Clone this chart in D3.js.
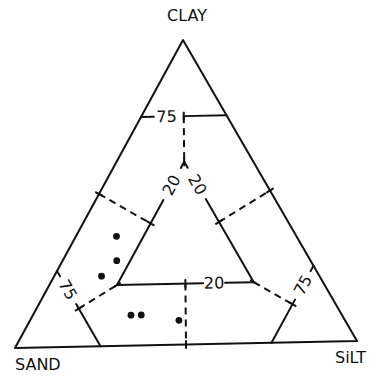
<!DOCTYPE html>
<html>
<head>
<meta charset="utf-8">
<script src="https://cdn.jsdelivr.net/npm/d3@7"></script>
<style>
  html, body { margin: 0; background: #fff; }
  svg { display: block; }
  text { font-family: "DejaVu Sans", sans-serif; fill: #111; }
</style>
</head>
<body>
<svg id="chart" width="369" height="377"></svg>
<script>
// Corner names of the texture triangle
const vertexNames = ["SAND", "SiLT", "CLAY"];

// Sample compositions, percent by weight
const sand = [52, 56, 63, 61, 58, 48];
const silt = [12, 16, 14, 29, 32, 44];
const clay = [36, 28, 23, 10, 10, 8];

// Class boundaries (percent)
const innerLimit = 20;
const outerLimit = 75;
const boundaryLabels = ["20", "75"];

// ---- layout ----
const svg = d3.select("#chart");
const corner = {
  sand: [15, 348],
  silt: [357, 341],
  clay: [183, 40]
};
const pct = d3.scaleLinear().domain([0, 100]).range([0, 1]);

// barycentric projection: [sand, silt, clay] (percent) -> [x, y]
function proj(p) {
  const a = pct(p[0]), b = pct(p[1]), c = pct(p[2]);
  return [
    a * corner.sand[0] + b * corner.silt[0] + c * corner.clay[0],
    a * corner.sand[1] + b * corner.silt[1] + c * corner.clay[1]
  ];
}
const lerp = (p, q, t) => [p[0] + (q[0] - p[0]) * t, p[1] + (q[1] - p[1]) * t];
const line = d3.line();

const ink = "#111";
const g = svg.append("g")
  .attr("fill", "none")
  .attr("stroke", ink)
  .attr("stroke-width", 2)
  .attr("stroke-linecap", "round")
  .attr("stroke-linejoin", "round");

// outer triangle
g.append("path")
  .attr("d", line([proj([100, 0, 0]), proj([0, 100, 0]), proj([0, 0, 100])]) + "Z");

const lo = innerLimit, hi = outerLimit, rest = 100 - hi;
const mid = 100 - lo * 2;

// solid boundaries, each carrying a label that interrupts it
const boundaries = [
  { from: [rest, 0, hi], to: [0, rest, hi], text: boundaryLabels[1], at: 0.30, gap: [0.15, 0.50] },
  { from: [lo, lo, mid], to: [mid, lo, lo], text: boundaryLabels[0], at: 0.19, gap: [0.05, 0.31] },
  { from: [lo, lo, mid], to: [lo, mid, lo], text: boundaryLabels[0], at: 0.19, gap: [0.05, 0.31] },
  { from: [mid, lo, lo], to: [lo, mid, lo], text: boundaryLabels[0], at: 0.71, gap: [0.63, 0.79] },
  { from: [hi, 0, rest], to: [hi, rest, 0], text: boundaryLabels[1], at: 0.25, gap: [0.07, 0.44] },
  { from: [0, hi, rest], to: [rest, hi, 0], text: boundaryLabels[1], at: 0.25, gap: [0.07, 0.44] }
];

boundaries.forEach(b => {
  const p = proj(b.from), q = proj(b.to);
  g.append("path").attr("d", line([p, lerp(p, q, b.gap[0])]));
  g.append("path").attr("d", line([lerp(p, q, b.gap[1]), q]));
  let ang = Math.atan2(q[1] - p[1], q[0] - p[0]) * 180 / Math.PI;
  if (ang > 90) ang -= 180;
  if (ang <= -90) ang += 180;
  const c = lerp(p, q, b.at);
  svg.append("text")
    .attr("transform", `translate(${c[0]},${c[1]}) rotate(${ang})`)
    .attr("text-anchor", "middle")
    .attr("dominant-baseline", "central")
    .attr("font-size", 16)
    .text(b.text);
});

// dashed median segments joining the fields
const half = (100 - hi) / 2;
const dashed = [
  [[half, half, hi], [lo, lo, mid]],
  [[50 - lo / 2, 50 - lo / 2, lo], [50, 50, 0]],
  [[hi, half, half], [mid, lo, lo]],
  [[lo, 50 - lo / 2, 50 - lo / 2], [0, 50, 50]],
  [[50, 0, 50], [50 - lo / 2, lo, 50 - lo / 2]],
  [[lo, mid, lo], [half, hi, half]]
];

dashed.forEach(([a, b]) => {
  const p = proj(a), q = proj(b);
  g.append("path")
    .attr("d", line([p, q]))
    .attr("stroke-dasharray", "7,5")
    .attr("stroke-linecap", "butt");
  // short ticks where the dashed line meets a boundary
  const len = Math.hypot(q[0] - p[0], q[1] - p[1]);
  const ux = (q[0] - p[0]) / len, uy = (q[1] - p[1]) / len;
  [p, q].forEach(e => {
    g.append("path").attr("d", line([[e[0] - ux * 3.5, e[1] - uy * 3.5], [e[0] + ux * 3.5, e[1] + uy * 3.5]]));
  });
});

// sample points
const samples = sand.map((s, i) => [s, silt[i], clay[i]]);
svg.append("g").selectAll("circle")
  .data(samples)
  .join("circle")
  .attr("cx", d => proj(d)[0])
  .attr("cy", d => proj(d)[1])
  .attr("r", 3.4)
  .attr("fill", ink);

// corner labels
svg.append("text").attr("x", corner.sand[0]).attr("y", 370)
  .attr("font-size", 16).text(vertexNames[0]);
svg.append("text").attr("x", 335).attr("y", 363)
  .attr("font-size", 16).text(vertexNames[1]);
svg.append("text").attr("x", 187).attr("y", 21)
  .attr("text-anchor", "middle").attr("font-size", 16).text(vertexNames[2]);
</script>
</body>
</html>
